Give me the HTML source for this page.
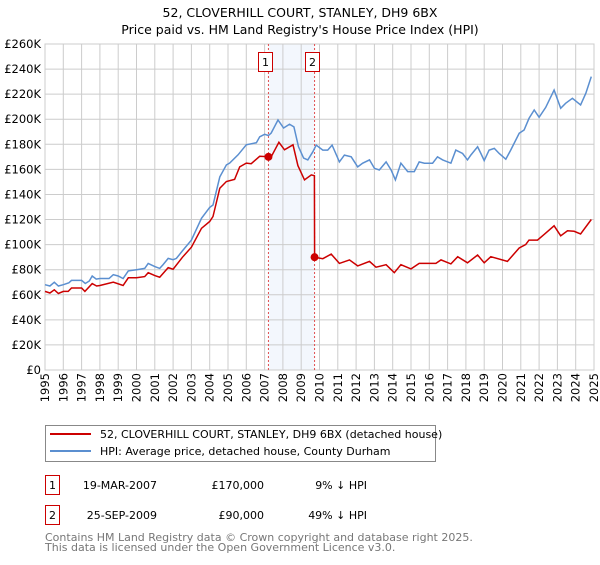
<!DOCTYPE html>
<html><head><meta charset="utf-8"><style>
body{margin:0;background:#fff;}
svg text{font-family:"DejaVu Sans","Liberation Sans",sans-serif;}
</style></head><body>
<svg id="chart" width="600" height="560" viewBox="0 0 600 560" xmlns="http://www.w3.org/2000/svg">
<text x="300" y="17" text-anchor="middle" font-size="12.5">52, CLOVERHILL COURT, STANLEY, DH9 6BX</text>
<text x="300" y="34" text-anchor="middle" font-size="12.5">Price paid vs. HM Land Registry's House Price Index (HPI)</text>
<g id="plot"></g>
<g>
<rect x="45.5" y="425.5" width="390" height="36" fill="#fff" stroke="#888"/>
<line x1="50" y1="434" x2="91" y2="434" stroke="#cc0000" stroke-width="2"/>
<text x="100" y="438" font-size="11">52, CLOVERHILL COURT, STANLEY, DH9 6BX (detached house)</text>
<line x1="50" y1="451" x2="91" y2="451" stroke="#5b8fd0" stroke-width="2"/>
<text x="100" y="455" font-size="11">HPI: Average price, detached house, County Durham</text>
</g>
<g font-size="11">
<rect x="45.5" y="475.5" width="14" height="19" fill="#fff" stroke="#cc0000"/>
<text x="52.5" y="489" text-anchor="middle">1</text>
<text x="157" y="489" text-anchor="end">19-MAR-2007</text>
<text x="264" y="489" text-anchor="end">£170,000</text>
<text x="367" y="489" text-anchor="end">9% ↓ HPI</text>
<rect x="45.5" y="505.5" width="14" height="19" fill="#fff" stroke="#cc0000"/>
<text x="52.5" y="519" text-anchor="middle">2</text>
<text x="157" y="519" text-anchor="end">25-SEP-2009</text>
<text x="264" y="519" text-anchor="end">£90,000</text>
<text x="367" y="519" text-anchor="end">49% ↓ HPI</text>
</g>
<text x="45" y="541" font-size="11" fill="#777">Contains HM Land Registry data © Crown copyright and database right 2025.</text>
<text x="45" y="551" font-size="11" fill="#777">This data is licensed under the Open Government Licence v3.0.</text>
</svg>
<script>
const hpiYears=[1995.0,1995.27,1995.51,1995.73,1996.0,1996.3,1996.45,1997.0,1997.2,1997.42,1997.58,1997.8,1998.0,1998.5,1998.73,1999.0,1999.27,1999.55,2000.0,2000.45,2000.64,2001.0,2001.27,2001.45,2001.73,2002.0,2002.18,2002.51,2003.0,2003.55,2004.0,2004.18,2004.55,2004.91,2005.09,2005.55,2006.0,2006.55,2006.73,2007.0,2007.21,2007.36,2007.73,2008.04,2008.36,2008.6,2008.85,2009.13,2009.36,2009.64,2009.82,2010.18,2010.45,2010.69,2011.09,2011.36,2011.73,2012.09,2012.36,2012.73,2013.0,2013.27,2013.64,2013.91,2014.15,2014.45,2014.82,2015.18,2015.45,2015.73,2016.18,2016.45,2016.73,2017.18,2017.45,2017.82,2018.09,2018.27,2018.64,2018.82,2019.0,2019.27,2019.55,2019.82,2020.18,2020.45,2020.91,2021.18,2021.45,2021.73,2022.0,2022.36,2022.82,2023.18,2023.45,2023.82,2024.27,2024.55,2024.85];
const hpiValues=[68,67,70,67,68,69.5,71.5,71.5,69,71,75,72.5,73,73,76,75,73,79,80,81,85,82.5,81,84,89,88,89,95,103.6,121,129.7,131.6,154,163.6,165,171.6,179.6,181.3,186,188,187,189,199.4,193,196,194,178,169,167.6,174.1,179.4,175.4,175.4,179.4,166,171.4,170,162,164.9,167.6,160.9,159.5,166,159.5,151.6,164.9,158.2,158.2,166,164.9,164.9,170,167.6,164.9,175.4,172.7,167.6,171.4,178,172.7,167,175.4,176.7,172.7,168.1,175.4,188.8,191.4,200.7,207.4,201.5,209.4,223.3,208.7,212.7,216.7,211.4,220.7,234];
const priceYears=[1995.0,1995.27,1995.51,1995.73,1996.0,1996.27,1996.45,1997.0,1997.18,1997.58,1997.82,1998.0,1998.73,1999.27,1999.55,2000.0,2000.45,2000.64,2001.0,2001.27,2001.73,2002.0,2002.51,2003.0,2003.55,2004.0,2004.18,2004.55,2004.91,2005.36,2005.64,2006.0,2006.27,2006.73,2007.21,2007.36,2007.78,2008.09,2008.55,2008.82,2009.18,2009.55,2009.72,2009.73,2010.18,2010.64,2011.09,2011.64,2012.09,2012.73,2013.09,2013.64,2014.09,2014.45,2015.0,2015.45,2016.36,2016.64,2017.18,2017.55,2018.09,2018.64,2019.0,2019.36,2020.27,2020.91,2021.27,2021.45,2021.91,2022.27,2022.82,2023.18,2023.55,2023.91,2024.27,2024.85];
const priceValues=[62.7,61.4,64,61,62.7,62.7,65.4,65.4,62.7,68.9,67,67.4,70,67.4,73.5,73.5,74.5,77.6,75.3,74,81.7,80.4,89.9,97.9,113,118.4,122.4,145,150.3,152,162,165,164.5,170.4,170,170,181.6,175.6,179.6,163,151.6,155.6,155,90,88.8,92.4,85,87.8,83,86.6,82,84,77.6,84,80.6,85,85,87.8,84.6,90.4,85.5,91.7,85.5,90.4,86.6,97.3,100,103.6,103.6,108,115,107,111,110.6,108.5,120];
const saleYears=[2007.21,2009.73];
const saleValues=[170,90];
const saleLabels=["1","2"];
const yTicks=[0,20,40,60,80,100,120,140,160,180,200,220,240,260];
const yTickLabels=["£0","£20K","£40K","£60K","£80K","£100K","£120K","£140K","£160K","£180K","£200K","£220K","£240K","£260K"];
const xTicks=[1995,1996,1997,1998,1999,2000,2001,2002,2003,2004,2005,2006,2007,2008,2009,2010,2011,2012,2013,2014,2015,2016,2017,2018,2019,2020,2021,2022,2023,2024,2025];

const NS='http://www.w3.org/2000/svg';
const L=45,R=594,T=44,B=370;
const xs=y=>L+(y-1995)/30*(R-L);
const ys=v=>B-v/260*(B-T);
const g=document.getElementById('plot');
function mk(t,a){const e=document.createElementNS(NS,t);for(const k in a)e.setAttribute(k,a[k]);g.appendChild(e);return e;}
const shade=mk('rect',{x:xs(saleYears[0]),y:T,width:xs(saleYears[1])-xs(saleYears[0]),height:B-T,fill:'#eef3fc',opacity:0.7});


yTicks.forEach((v,i)=>{
 const ln=mk('line',{x1:L,x2:R,y1:ys(v),y2:ys(v),stroke:'#ccc','stroke-width':1});
 
 
 const t=mk('text',{x:L-4,y:ys(v)+4,'text-anchor':'end','font-size':11.5});
 
 
 t.textContent=yTickLabels[i];
});
xTicks.forEach(y=>{
 const ln=mk('line',{x1:xs(y),x2:xs(y),y1:T,y2:B,stroke:'#ccc','stroke-width':1});
 
 
 const t=mk('text',{x:0,y:0,'text-anchor':'end','font-size':11.5,transform:`translate(${xs(y)+4},${B+3}) rotate(-90)`});
 
 
 t.textContent=y;
});
const fr=mk('rect',{x:L,y:T,width:R-L,height:B-T,fill:'none',stroke:'#ccc'});


saleYears.forEach((y,i)=>{
 const ln=mk('line',{x1:xs(y),x2:xs(y),y1:T,y2:B,stroke:'#e05050','stroke-width':1,'stroke-dasharray':'2,2'});
 
 
 const bx=mk('rect',{x:Math.round(xs(y))-10+0.5,y:52.5,width:14,height:19,fill:'#fff',stroke:'#cc0000'});
 
 
 const t=mk('text',{x:Math.round(xs(y))-2.5,y:66,'text-anchor':'middle','font-size':11});
 
 
 t.textContent=saleLabels[i];
});
function path(xa,va){return xa.map((y,i)=>(i?'L':'M')+xs(y).toFixed(1)+','+ys(va[i]).toFixed(1)).join('');}
const hp=mk('path',{d:path(hpiYears,hpiValues),fill:'none',stroke:'#5b8fd0','stroke-width':1.5});


const pp=mk('path',{d:path(priceYears,priceValues),fill:'none',stroke:'#cc0000','stroke-width':1.5});


saleYears.forEach((y,i)=>{
 const c=mk('circle',{cx:xs(y),cy:ys(saleValues[i]),r:4,fill:'#cc0000'});
 
 
});
</script>
</body></html>
